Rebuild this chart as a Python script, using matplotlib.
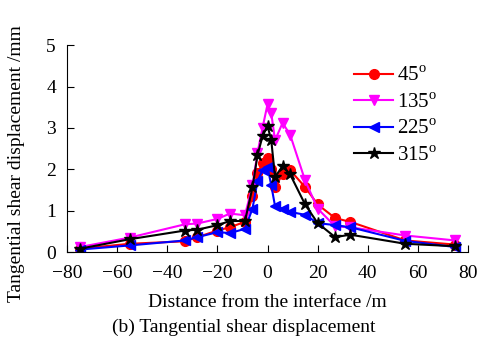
import matplotlib.pyplot as plt

plt.rcParams['font.family'] = 'Liberation Serif'
plt.rcParams['mathtext.fontset'] = 'custom'
plt.rcParams['mathtext.rm'] = 'Liberation Serif'

# positions along the tunnel axis (m)
x = [-75, -55, -33, -28, -20, -15, -9, -6, -4, -2, 0, 1.5, 3, 6, 9, 15, 20, 27, 33, 55, 75]

d45 = [0.08, 0.20, 0.26, 0.36, 0.52, 0.60, 0.73, 1.35, 1.90, 2.14, 2.28, 2.00, 1.57, 1.88, 1.98, 1.57, 1.15, 0.82, 0.73, 0.28, 0.18]
d135 = [0.12, 0.35, 0.67, 0.69, 0.80, 0.93, 0.89, 1.61, 2.40, 3.00, 3.57, 3.35, 2.70, 3.12, 2.84, 1.73, 1.05, 0.62, 0.60, 0.40, 0.28]
d225 = [0.06, 0.16, 0.28, 0.36, 0.48, 0.46, 0.56, 1.05, 1.71, 1.98, 2.06, 1.61, 1.11, 1.05, 0.97, 0.90, 0.70, 0.65, 0.60, 0.27, 0.12]
d315 = [0.08, 0.31, 0.52, 0.54, 0.65, 0.75, 0.75, 1.56, 2.34, 2.80, 3.05, 2.70, 1.81, 2.08, 1.88, 1.15, 0.70, 0.36, 0.42, 0.20, 0.14]

fig = plt.figure(figsize=(4.79, 3.42), dpi=100)
ax = fig.add_axes([0.14, 0.263, 0.837, 0.605])

ax.plot(x, d45, color='red', marker='o', ms=7, lw=1.5, label='45$^{\\mathrm{o}}$')
ax.plot(x, d135, color='magenta', marker='v', ms=7, lw=1.5, label='135$^{\\mathrm{o}}$')
ax.plot(x, d225, color='blue', marker='<', ms=7, lw=1.5, label='225$^{\\mathrm{o}}$')
ax.plot(x, d315, color='black', marker='*', ms=9, lw=1.5, label='315$^{\\mathrm{o}}$')

ax.set_xlim(-80, 80)
ax.set_ylim(0, 5)
ax.set_xticks(range(-80, 81, 20))
ax.set_yticks(range(0, 6))
ax.spines['top'].set_visible(False)
ax.spines['right'].set_visible(False)
ax.tick_params(direction='in', labelsize=14, length=5)
ax.tick_params(axis='y', pad=8)
ax.tick_params(axis='x', pad=9)

ax.set_xlabel('Distance from the interface /m', fontsize=14, va='center')
ax.xaxis.set_label_coords(0.5, -0.245)
ax.set_ylabel('Tangential shear displacement /mm', fontsize=14, va='center')
ax.yaxis.set_label_coords(-0.125, 0.43)

ax.legend(loc='upper left', bbox_to_anchor=(0.715, 0.896), frameon=False, fontsize=15,
          borderpad=0, borderaxespad=0, handlelength=1.9, labelspacing=0.33,
          handletextpad=0.2)

fig.text(0.508, 0.044, '(b) Tangential shear displacement', ha='center', va='center', fontsize=14)

fig.savefig('out.png', dpi=100)
